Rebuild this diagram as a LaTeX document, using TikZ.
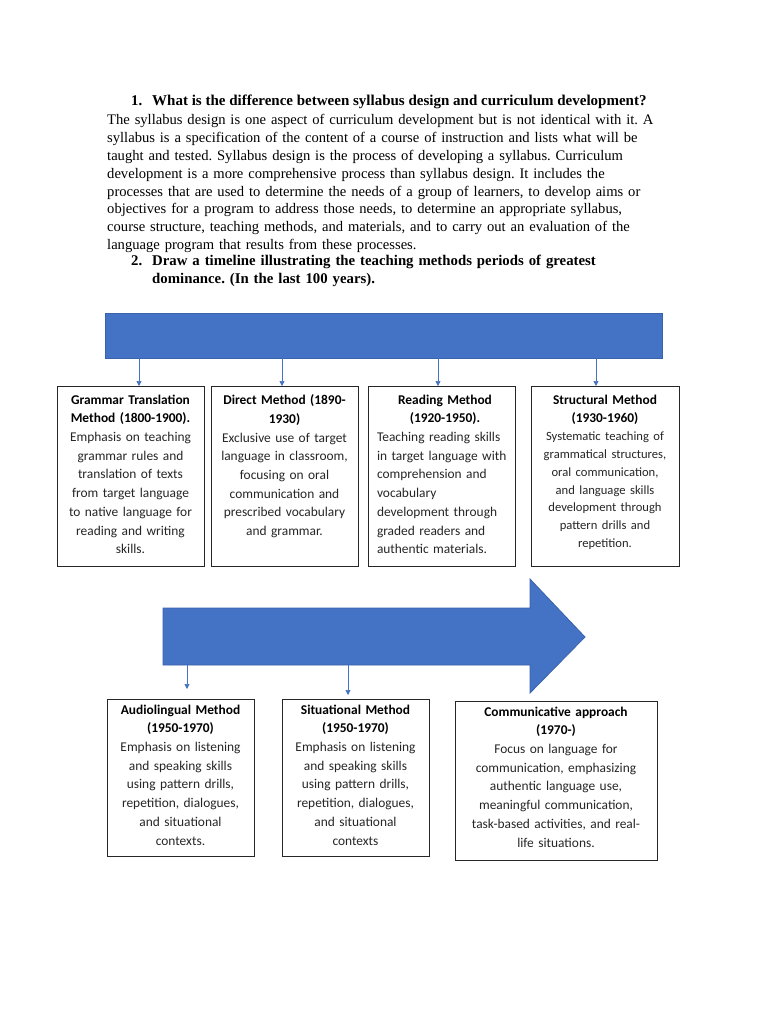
\documentclass[tikz,border=0pt]{standalone}
\usepackage{fontspec}
\setmainfont{Liberation Serif}
\newfontfamily\calib{Carlito}
\usetikzlibrary{arrows.meta}
\definecolor{accent}{HTML}{4472C4}
\definecolor{accentdark}{HTML}{3A63AD}
\definecolor{bodygray}{HTML}{262626}
\tikzset{
 bar/.style={fill=accent, draw=accentdark, line width=0.8pt},
 box/.style={draw=black!85, line width=0.9pt, fill=white, inner sep=0pt},
 link/.style={draw=accent, line width=0.7pt, -{Triangle[width=5pt,length=5pt]}},
 boxtext/.style={font=\calib\fontsize{13.4}{18.7}\selectfont, text=bodygray, align=center, inner sep=0pt, anchor=north},
 serif/.style={font=\frenchspacing\fontsize{14.6}{17.9}\selectfont, inner sep=0pt, anchor=north west},
 serifbold/.style={font=\frenchspacing\bfseries\fontsize{14.8}{17.9}\selectfont, inner sep=0pt, anchor=north west},
}
\begin{document}
\begin{tikzpicture}[x=1pt,y=-1pt]
\useasboundingbox[fill=white] (0,0) rectangle (768,1024);

% Questions and answer
\node[serifbold] (h1num) at (131,93) {\strut 1.};
\node[serifbold, font=\frenchspacing\bfseries\fontsize{15}{17.9}\selectfont] (h1) at (152,93) {\strut What is the difference between syllabus design and curriculum development?};
\node[serif, text width=600pt, align=left] (para) at (107,114) {The syllabus design is one aspect of curriculum development but is not identical with it. A\\
syllabus is a specification of the content of a course of instruction and lists what will be\\
taught and tested. Syllabus design is the process of developing a syllabus. Curriculum\\
development is a more comprehensive process than syllabus design. It includes the\\
processes that are used to determine the needs of a group of learners, to develop aims or\\
objectives for a program to address those needs, to determine an appropriate syllabus,\\
course structure, teaching methods, and materials, and to carry out an evaluation of the\\
language program that results from these processes.};
\node[serifbold] (h2num) at (131,253) {\strut 2.};
\node[serifbold, text width=560pt, align=left] (h2) at (152,253) {\strut Draw a timeline illustrating the teaching methods periods of greatest\\dominance. (In the last 100 years).};

% Top bar
\node[bar, minimum width=557pt, minimum height=45pt, inner sep=0pt] (topbar) at (383.5,335.5) {};

% Row 1 boxes
\node[box, minimum width=147pt, minimum height=180pt] (b1) at (130.5,476) {};
\node[box, minimum width=147pt, minimum height=180pt] (b2) at (284.5,476) {};
\node[box, minimum width=147pt, minimum height=180pt] (b3) at (441.5,476) {};
\node[box, minimum width=148pt, minimum height=180pt] (b4) at (605,476) {};

\coordinate (a1) at (139,386);
\coordinate (a2) at (282,386);
\coordinate (a3) at (438,386);
\coordinate (a4) at (596,386);
\draw[link] (topbar.south -| a1) -- (a1);
\draw[link] (topbar.south -| a2) -- (a2);
\draw[link] (topbar.south -| a3) -- (a3);
\draw[link] (topbar.south -| a4) -- (a4);

\node[boxtext, text width=145pt] (t1) at ([yshift=-9pt]b1.north) {\textbf{\color{black}Grammar Translation\\Method (1800-1900).}\\Emphasis on teaching\\grammar rules and\\translation of texts\\from target language\\to native language for\\reading and writing\\skills.};
\node[boxtext, text width=145pt] (t2) at ([yshift=-9pt]b2.north) {\textbf{\color{black}Direct Method (1890-\\1930)}\\Exclusive use of target\\language in classroom,\\focusing on oral\\communication and\\prescribed vocabulary\\and grammar.};
\node[boxtext, text width=136pt, align=left] (t3) at ([yshift=-9pt, xshift=3.5pt]b3.north) {{\centering\textbf{\color{black}Reading Method\\(1920-1950).}\par}\raggedright Teaching reading skills\\in target language with\\comprehension and\\vocabulary\\development through\\graded readers and\\authentic materials.};
\node[boxtext, text width=146pt] (t4) at ([yshift=-9pt]b4.north) {\textbf{\color{black}Structural Method\\(1930-1960)}\\{\fontsize{12.6}{17.8}\selectfont Systematic teaching of\\grammatical structures,\\oral communication,\\and language skills\\development through\\pattern drills and\\repetition.\par}};

% Big arrow
\draw[bar] (163,608) -- (530,608) -- (530,579) -- (585,637) -- (530,693) -- (530,665) -- (163,665) -- cycle;
\coordinate (bigA) at (187,665);
\coordinate (bigB) at (348,665);

% Row 2 boxes
\node[box, minimum width=147pt, minimum height=157pt] (b5) at (180.5,777.5) {};
\node[box, minimum width=147pt, minimum height=157pt] (b6) at (355.5,777.5) {};
\node[box, minimum width=202pt, minimum height=159pt] (b7) at (556,780.5) {};

\coordinate (a5) at (187,689);
\coordinate (a6) at (348,695);
\draw[link] (bigA) -- (a5);
\draw[link] (bigB) -- (a6);

\node[boxtext, text width=145pt] (t5) at ([yshift=-6pt]b5.north) {\textbf{\color{black}Audiolingual Method\\(1950-1970)}\\Emphasis on listening\\and speaking skills\\using pattern drills,\\repetition, dialogues,\\and situational\\contexts.};
\node[boxtext, text width=145pt] (t6) at ([yshift=-6pt]b6.north) {\textbf{\color{black}Situational Method\\(1950-1970)}\\Emphasis on listening\\and speaking skills\\using pattern drills,\\repetition, dialogues,\\and situational\\contexts};
\node[boxtext, text width=198pt] (t7) at ([yshift=-6pt]b7.north) {\textbf{\color{black}Communicative approach\\(1970-)}\\Focus on language for\\communication, emphasizing\\authentic language use,\\meaningful communication,\\task-based activities, and real-\\life situations.};
\end{tikzpicture}
\end{document}
